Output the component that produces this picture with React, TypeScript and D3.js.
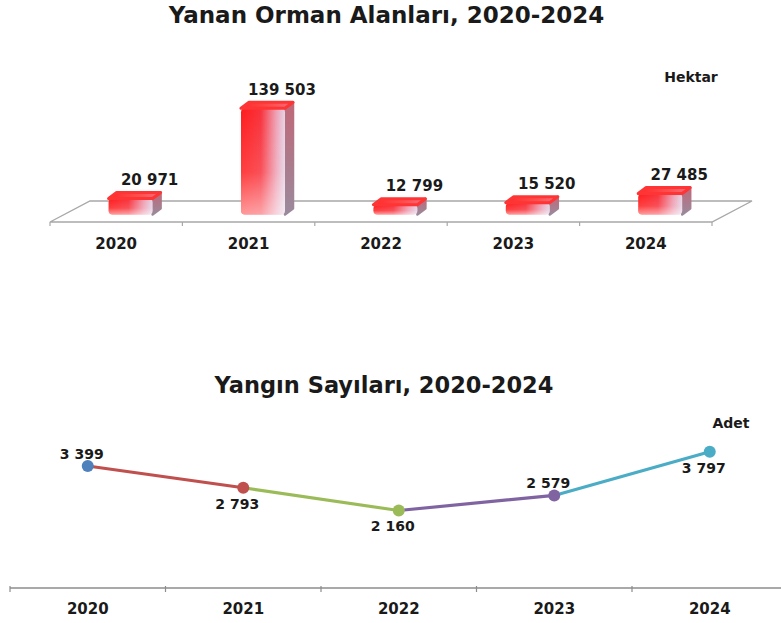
import React from "react";
import * as d3 from "d3";

const years = ["2020", "2021", "2022", "2023", "2024"];
const burnedArea = [20971, 139503, 12799, 15520, 27485];
const fireCounts = [3399, 2793, 2160, 2579, 3797];
const pointColors = ["#4f81bd", "#c0504d", "#9bbb59", "#8064a2", "#4bacc6"];
const labelSide = ["above", "below", "below", "above", "below"];
const title1 = "Yanan Orman Alanları, 2020-2024";
const title2 = "Yangın Sayıları, 2020-2024";
const unit1 = "Hektar";
const unit2 = "Adet";

const W = 781;
const H = 623;
const FONT = "'DejaVu Sans', sans-serif";
const fmt = (v: number) => d3.format(",")(v).replace(/,/g, " ");

export default function App() {
  // ---- Top 3D bar chart geometry ----
  const floorFrontY = 222;
  const floorDepth = { x: 40, y: -21 };
  const xFront = d3.scaleBand<string>().domain(years).range([50, 712]);
  const barZ = 0.36;
  const barOff = { x: floorDepth.x * barZ, y: floorDepth.y * barZ };
  const barBase = floorFrontY + barOff.y;
  const barW = 44;
  const bd = { x: 8, y: -6 };
  const hScale = d3.scaleLinear().domain([0, 140000]).range([0, 106.5]);

  // ---- Bottom line chart geometry ----
  const xLine = d3.scaleBand<string>().domain(years).range([10, 787.5]);
  const yLine = d3.scaleLinear().domain([0, 4500]).range([588, 426.5]);
  const lx = (i: number) => (xLine(years[i]) as number) + xLine.bandwidth() / 2;
  const ly = (i: number) => yLine(fireCounts[i]);
  const lineGen = d3.line<number>().x((i) => lx(i)).y((i) => ly(i));

  const floorPath = d3.path();
  floorPath.moveTo(50, floorFrontY);
  floorPath.lineTo(712, floorFrontY);
  floorPath.lineTo(712 + floorDepth.x, floorFrontY + floorDepth.y);
  floorPath.lineTo(50 + floorDepth.x, floorFrontY + floorDepth.y);
  floorPath.closePath();

  const ticksTop = [...years.map((y) => xFront(y) as number), 712];
  const ticksBottom = [...years.map((y) => xLine(y) as number), 787.5];

  return (
    <svg
      width={W}
      height={H}
      style={{ position: "absolute", left: 0, top: 0, background: "#fff" }}
      fontFamily={FONT}
    >
      <defs>
        <linearGradient id="frontG" x1="0" y1="0" x2="1" y2="0">
          <stop offset="0%" stopColor="#ff1c1c" />
          <stop offset="45%" stopColor="#f8323c" />
          <stop offset="80%" stopColor="#eea0b4" />
          <stop offset="100%" stopColor="#e4d4e6" />
        </linearGradient>
        <linearGradient id="frontV" x1="0" y1="0" x2="0" y2="1">
          <stop offset="0%" stopColor="#ffffff" stopOpacity="0" />
          <stop offset="60%" stopColor="#ffffff" stopOpacity="0.15" />
          <stop offset="100%" stopColor="#ffffff" stopOpacity="0.55" />
        </linearGradient>
        <linearGradient id="sideG" x1="0" y1="0" x2="0" y2="1">
          <stop offset="0%" stopColor="#c06878" />
          <stop offset="100%" stopColor="#9a8a9c" />
        </linearGradient>
        <linearGradient id="topG" x1="0" y1="0" x2="1" y2="0">
          <stop offset="0%" stopColor="#ff2a2a" />
          <stop offset="60%" stopColor="#ff5050" />
          <stop offset="100%" stopColor="#f07080" />
        </linearGradient>
      </defs>
      <rect width={W} height={H} fill="#fff" />

      {/* ---------- Top chart ---------- */}
      <text x={386.5} y={23} textAnchor="middle" fontSize={23} fontWeight="bold" fill="#1a1a1a">
        {title1}
      </text>
      <text x={691} y={82} textAnchor="middle" fontSize={14} fontWeight="bold" fill="#1a1a1a">
        {unit1}
      </text>

      <path d={floorPath.toString()} fill="#fff" stroke="#a8a8a8" strokeWidth={1.4} />
      {ticksTop.map((t, i) => (
        <line key={i} x1={t} x2={t} y1={floorFrontY} y2={floorFrontY + 4} stroke="#a8a8a8" strokeWidth={1.2} />
      ))}

      {burnedArea.map((v, i) => {
        const cx = (xFront(years[i]) as number) + xFront.bandwidth() / 2 + barOff.x;
        const x0 = cx - barW / 2;
        const x1 = cx + barW / 2;
        const yTop = barBase - hScale(v);
        const top = `M${x0},${yTop} L${x1},${yTop} L${x1 + bd.x},${yTop + bd.y} L${x0 + bd.x},${yTop + bd.y} Z`;
        const side = `M${x1},${yTop} L${x1 + bd.x},${yTop + bd.y} L${x1 + bd.x},${barBase + bd.y} L${x1},${barBase} Z`;
        return (
          <g key={i}>
            <path d={side} fill="url(#sideG)" stroke="url(#sideG)" strokeWidth={2.5} strokeLinejoin="round" />
            <rect x={x0} y={yTop} width={barW} height={barBase - yTop} fill="url(#frontG)" rx={4} />
            <rect x={x0} y={yTop} width={barW} height={barBase - yTop} fill="url(#frontV)" rx={4} />
            <path d={top} fill="url(#topG)" stroke="#ff3434" strokeWidth={3} strokeLinejoin="round" />
            <text x={cx + 19} y={yTop - 13.5} textAnchor="middle" fontSize={15} fontWeight="bold" fill="#1a1a1a">
              {fmt(v)}
            </text>
          </g>
        );
      })}

      {years.map((y) => (
        <text
          key={y}
          x={(xFront(y) as number) + xFront.bandwidth() / 2}
          y={248.5}
          textAnchor="middle"
          fontSize={15}
          fontWeight="bold"
          fill="#1a1a1a"
        >
          {y}
        </text>
      ))}

      {/* ---------- Bottom chart ---------- */}
      <text x={384} y={393} textAnchor="middle" fontSize={22.5} fontWeight="bold" fill="#1a1a1a">
        {title2}
      </text>
      <text x={731} y={428} textAnchor="middle" fontSize={14} fontWeight="bold" fill="#1a1a1a">
        {unit2}
      </text>

      <line x1={10} x2={W} y1={588} y2={588} stroke="#8c8c8c" strokeWidth={1.4} />
      {ticksBottom.map((t, i) => (
        <line key={i} x1={t} x2={t} y1={586} y2={592} stroke="#8c8c8c" strokeWidth={1.2} />
      ))}
      {years.map((y) => (
        <text
          key={y}
          x={(xLine(y) as number) + xLine.bandwidth() / 2}
          y={613.5}
          textAnchor="middle"
          fontSize={15}
          fontWeight="bold"
          fill="#1a1a1a"
        >
          {y}
        </text>
      ))}

      {fireCounts.slice(1).map((_, k) => (
        <path
          key={k}
          d={lineGen([k, k + 1]) as string}
          stroke={pointColors[k + 1]}
          strokeWidth={3.2}
          fill="none"
          strokeLinecap="round"
        />
      ))}
      {fireCounts.map((v, i) => (
        <circle key={i} cx={lx(i)} cy={ly(i)} r={6} fill={pointColors[i]} />
      ))}
      {fireCounts.map((v, i) => (
        <text
          key={i}
          x={lx(i) - 6}
          y={labelSide[i] === "above" ? ly(i) - 7 : ly(i) + 21}
          textAnchor="middle"
          fontSize={14}
          fontWeight="bold"
          fill="#1a1a1a"
        >
          {fmt(v)}
        </text>
      ))}
    </svg>
  );
}
